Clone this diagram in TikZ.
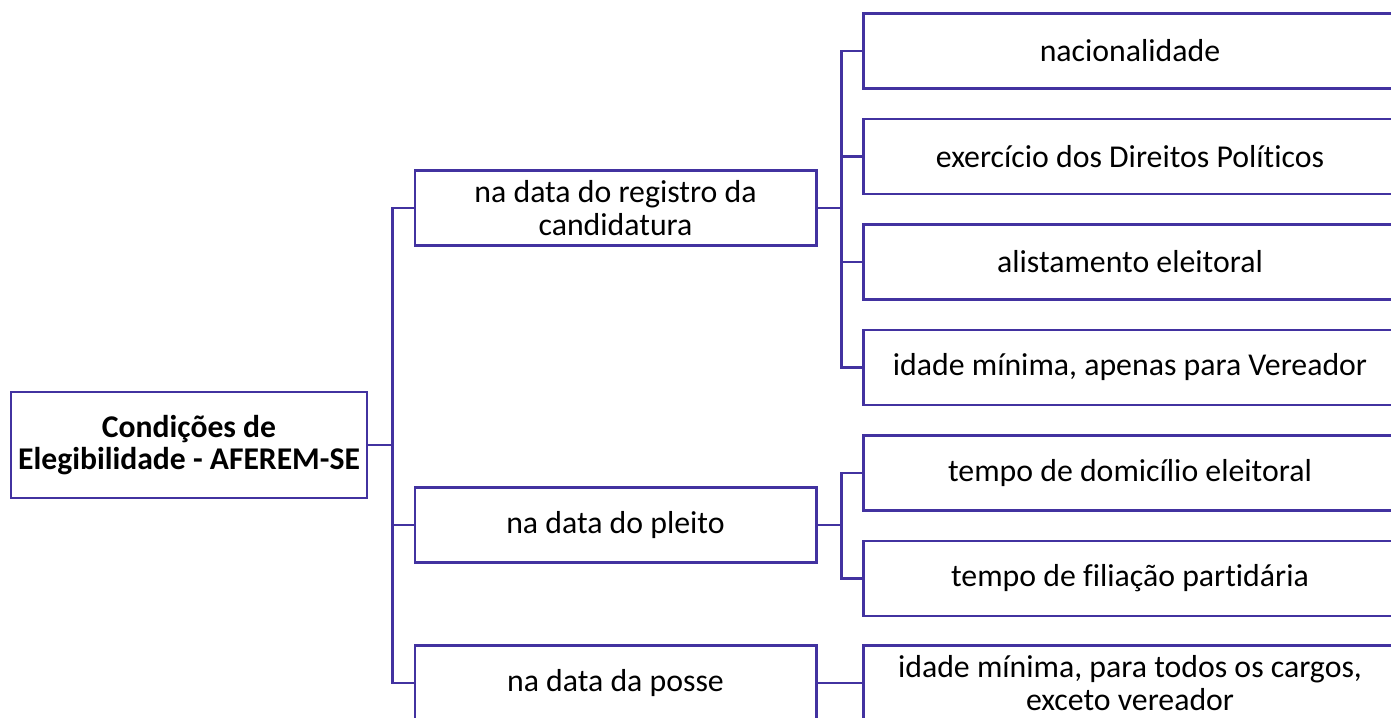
\documentclass[tikz,border=0pt]{standalone}
\usepackage{fontspec}
\setmainfont[Ligatures=NoCommon]{Carlito}
\usetikzlibrary{positioning}
\definecolor{linecol}{RGB}{66,50,160}
\tikzstyle{link} = [draw=linecol, line width=1.7pt]
\tikzstyle{box}  = [draw=linecol, line width=1.7pt, inner sep=0pt, align=center,
                    font=\fontsize{18.1}{18.8}\selectfont]
\tikzstyle{rootbox} = [box, minimum width=7.12cm, minimum height=2.12cm, font=\fontsize{18}{18.4}\selectfont\bfseries]
\tikzstyle{midbox}  = [box, minimum width=8.02cm, minimum height=1.5cm]
\tikzstyle{leaf}    = [box, minimum width=10.68cm, minimum height=1.5cm]

\begin{document}
\begin{tikzpicture}
    \useasboundingbox (0,0) rectangle (27.82,14.34);
    \clip (0,0) rectangle (27.82,14.34);

    \node (root) [rootbox] at (3.78,5.44) {Condições de\\Elegibilidade - AFEREM-SE};

    \node (reg)    [midbox] at (12.31,10.18)                   {na data do registro da\\candidatura};
    \node (pleito) [midbox, node distance=6.34cm, below of=reg]    {na data do pleito};
    \node (posse)  [midbox, node distance=3.16cm, below of=pleito] {na data da posse};

    % leaves (cut off at the right edge)
    \node (nac)   [leaf] at (22.6,13.32)                         {nacionalidade};
    \node (exe)   [leaf, node distance=2.11cm, below of=nac]   {exercício dos Direitos Políticos};
    \node (ali)   [leaf, node distance=2.11cm, below of=exe]   {alistamento eleitoral};
    \node (ver)   [leaf, node distance=2.11cm, below of=ali]   {idade mínima, apenas para Vereador};
    \node (dom)   [leaf, node distance=2.11cm, below of=ver]   {tempo de domicílio eleitoral};
    \node (fil)   [leaf, node distance=2.11cm, below of=dom]   {tempo de filiação partidária};
    \node (todos) [leaf, node distance=10.29cm, right of=posse] {idade mínima, para todos os cargos,\\exceto vereador};

    \foreach \n in {reg,pleito,posse}
        \draw [link] (root.east) -- ++(0.48,0) |- (\n.west);
    \foreach \n in {nac,exe,ali,ver}
        \draw [link] (reg.east) -- ++(0.48,0) |- (\n.west);
    \foreach \n in {dom,fil}
        \draw [link] (pleito.east) -- ++(0.48,0) |- (\n.west);
    \draw [link] (posse.east) -- (todos.west);
\end{tikzpicture}
\end{document}
